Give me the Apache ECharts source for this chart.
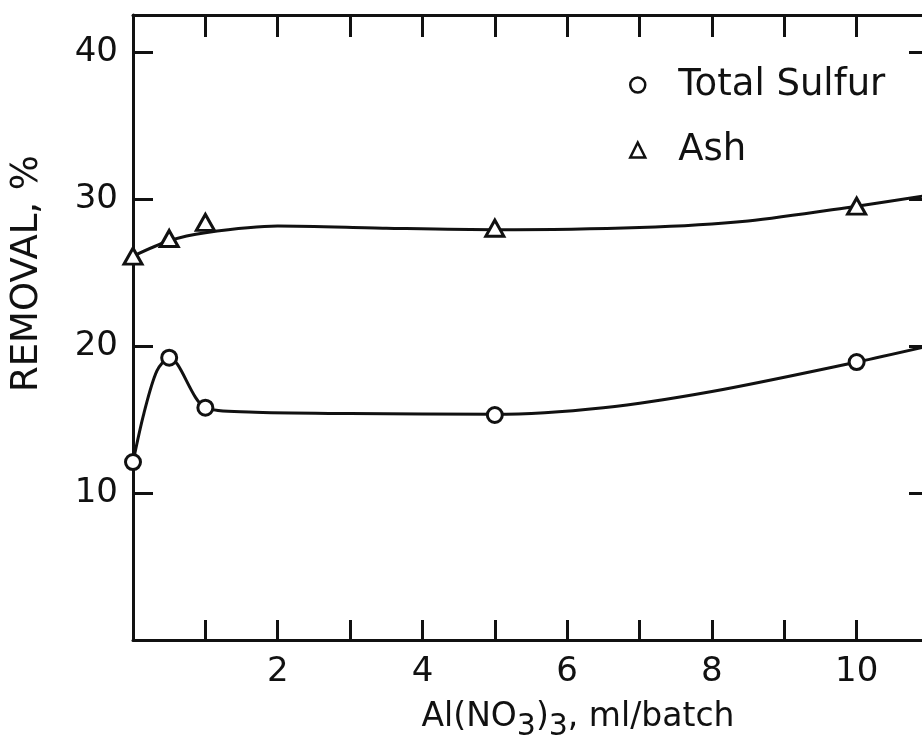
<!DOCTYPE html>
<html>
<head>
<meta charset="utf-8">
<script src="https://cdn.jsdelivr.net/npm/echarts@6/dist/echarts.min.js"></script>
<style>
html,body{margin:0;padding:0;background:#fff;}
#chart{width:922px;height:742px;}
</style>
</head>
<body>
<div id="chart"></div>
<script>
// Measured data points
const sulfurPoints = [[0, 12.1], [0.5, 19.2], [1, 15.8], [5, 15.3], [10, 18.9]];
const ashPoints = [[0, 26.1], [0.5, 27.3], [1, 28.4], [5, 28.0], [10, 29.5]];
// Hand-drawn curves
const sulfurCurve = [[0, 12.1], [0.15, 15.4], [0.33, 18.3], [0.5, 19.2], [1, 15.8], [1.6, 15.5], [3, 15.4], [5, 15.35], [6.5, 15.8], [8, 16.9], [10, 18.9], [11, 20.0]];
const ashCurve = [[0, 26.1], [0.5, 27.15], [1, 27.7], [2, 28.15], [3.5, 28.0], [5, 27.9], [7, 28.05], [8.5, 28.5], [10, 29.5], [11, 30.25]];
const xTickLabels = [2, 4, 6, 8, 10];
const yTickLabels = [10, 20, 30, 40];

const FONT = 'DejaVu Sans';
const INK = '#111';

const chart = echarts.init(document.getElementById('chart'), null, {renderer: 'canvas'});

const axisLine = {show: true, onZero: false, lineStyle: {color: INK, width: 3}};

chart.setOption({
  animation: false,
  backgroundColor: '#fff',
  grid: {left: 133, top: 15, width: 796, height: 625, outerBoundsMode: 'none', containLabel: false},
  legend: {
    orient: 'vertical',
    left: 624,
    top: 60,
    itemWidth: 15,
    itemHeight: 15,
    itemGap: 25,
    data: [
      {name: 'Total Sulfur', icon: 'circle', itemStyle: {color: '#fff', borderColor: INK, borderWidth: 2.5}},
      {name: 'Ash', icon: 'triangle', itemStyle: {color: '#fff', borderColor: INK, borderWidth: 2.5}}
    ],
    textStyle: {fontFamily: FONT, fontSize: 37, color: INK, lineHeight: 40, padding: [0, 0, 0, 28]},
    selectedMode: false
  },
  xAxis: [
    {
      type: 'value', position: 'bottom', min: 0, max: 11, interval: 1,
      axisLine: axisLine,
      axisTick: {show: true, inside: true, length: 20, lineStyle: {color: INK, width: 3}},
      splitLine: {show: false},
      axisLabel: {
        show: true, margin: 15, fontFamily: FONT, fontSize: 34, color: INK,
        formatter: v => xTickLabels.indexOf(v) >= 0 ? String(v) : ''
      },
      name: 'Al(NO{s|3}){s|3}, ml/batch',
      nameLocation: 'middle',
      nameGap: 28,
      nameTextStyle: {
        fontFamily: FONT, fontSize: 33, color: INK, lineHeight: 48,
        padding: [0, 0, 0, 94],
        rich: {s: {fontFamily: FONT, fontSize: 30, color: INK, lineHeight: 16, verticalAlign: 'bottom'}}
      }
    },
    {
      type: 'value', position: 'top', min: 0, max: 11, interval: 1,
      axisLine: axisLine,
      axisTick: {show: true, inside: true, length: 22, lineStyle: {color: INK, width: 3}},
      splitLine: {show: false},
      axisLabel: {show: false}
    }
  ],
  yAxis: [
    {
      type: 'value', position: 'left', min: 0, max: 42.5, interval: 10,
      axisLine: axisLine,
      axisTick: {show: true, inside: true, length: 20, lineStyle: {color: INK, width: 3}},
      splitLine: {show: false},
      axisLabel: {
        show: true, margin: 15, fontFamily: FONT, fontSize: 34, color: INK,
        formatter: v => yTickLabels.indexOf(v) >= 0 ? String(v) : ''
      },
      name: 'REMOVAL, %',
      nameLocation: 'middle',
      nameGap: 87,
      nameRotate: 90,
      nameTextStyle: {fontFamily: FONT, fontSize: 37, color: INK, padding: [0, 0, 0, 108]}
    },
    {
      type: 'value', position: 'right', min: 0, max: 42.5, interval: 10,
      axisLine: axisLine,
      axisTick: {show: true, inside: true, length: 20, lineStyle: {color: INK, width: 3}},
      splitLine: {show: false},
      axisLabel: {show: false}
    }
  ],
  series: [
    {
      name: 'ashCurve', type: 'line', xAxisIndex: 0, yAxisIndex: 0,
      data: ashCurve, smooth: 0.3, showSymbol: false, symbol: 'none',
      lineStyle: {color: INK, width: 3}, z: 2, silent: true
    },
    {
      name: 'sulfurCurve', type: 'line', xAxisIndex: 0, yAxisIndex: 0,
      data: sulfurCurve, smooth: 0.3, showSymbol: false, symbol: 'none',
      lineStyle: {color: INK, width: 3}, z: 2, silent: true
    },
    {
      name: 'Total Sulfur', type: 'scatter', xAxisIndex: 0, yAxisIndex: 0,
      data: sulfurPoints, symbol: 'circle', symbolSize: 15, clip: false,
      itemStyle: {color: '#fff', borderColor: INK, borderWidth: 3, opacity: 1}, z: 5
    },
    {
      name: 'Ash', type: 'scatter', xAxisIndex: 0, yAxisIndex: 0,
      data: ashPoints, symbol: 'triangle', symbolSize: [18, 16], clip: false,
      itemStyle: {color: '#fff', borderColor: INK, borderWidth: 3, opacity: 1}, z: 5
    }
  ]
});
</script>
</body>
</html>
